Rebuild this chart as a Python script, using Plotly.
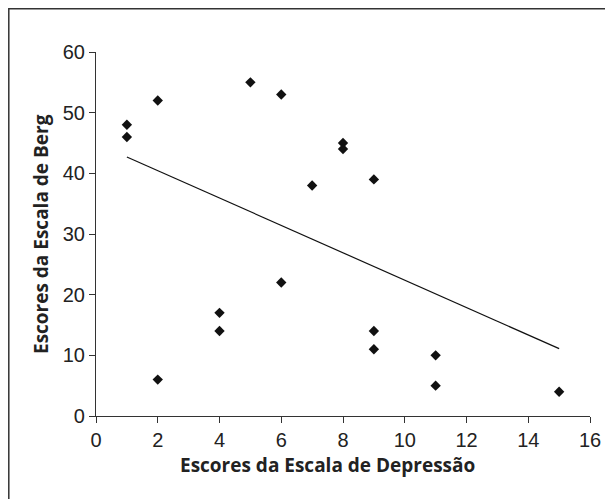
import plotly.graph_objects as go

# Data
depressao = [1, 1, 2, 5, 6, 8, 8, 7, 9, 6, 4, 4, 2, 9, 9, 11, 11, 15]
berg = [48, 46, 52, 55, 53, 45, 44, 38, 39, 22, 17, 14, 6, 14, 11, 10, 5, 4]
trend_x = [1, 15]
trend_y = [42.7, 11.1]
x_ticks = [0, 2, 4, 6, 8, 10, 12, 14, 16]
y_ticks = [0, 10, 20, 30, 40, 50, 60]

OFF = 8  # page body offset
W, H = 613, 499
L, T = 96 - OFF, 52 - OFF
pw, ph = 494, 364
R, B = W - L - pw, H - T - ph

def px_x(p):  # screen px -> paper x
    return (p - OFF - L) / pw

def px_y(p):
    return (T + ph - (p - OFF)) / ph

tick_font = dict(family="Liberation Sans, Arial, sans-serif", size=20, color="#222")
title_font = dict(family="Open Sans, Noto Sans, sans-serif", size=19, color="#222")

fig = go.Figure()
fig.add_trace(go.Scatter(x=trend_x, y=trend_y, mode="lines",
                         line=dict(color="#111", width=1.2), showlegend=False,
                         hoverinfo="skip"))
fig.add_trace(go.Scatter(x=depressao, y=berg, mode="markers",
                         marker=dict(symbol="diamond", size=8, color="#111"),
                         showlegend=False))

fig.update_layout(
    width=W, height=H,
    margin=dict(l=L, r=R, t=T, b=B, pad=0),
    paper_bgcolor="white", plot_bgcolor="white",
    xaxis=dict(range=[0, 16], tickvals=x_ticks, showgrid=False, zeroline=False,
               showline=True, linecolor="#333", linewidth=1.2,
               ticks="outside", ticklen=6, tickcolor="#333", tickwidth=1.2,
               tickfont=tick_font),
    yaxis=dict(range=[0, 60], tickvals=y_ticks, showgrid=False, zeroline=False,
               showline=True, linecolor="#333", linewidth=1.2,
               ticks="outside", ticklen=6, tickcolor="#333", tickwidth=1.2,
               tickfont=tick_font),
    annotations=[
        dict(text="<b>Escores da Escala de Depressão</b>", xref="paper", yref="paper",
             x=px_x(327), y=px_y(465), showarrow=False, font=title_font,
             xanchor="center", yanchor="middle"),
        dict(text="<b>Escores da Escala de Berg</b>", xref="paper", yref="paper",
             x=px_x(41), y=px_y(234), showarrow=False, font=title_font, textangle=-90,
             xanchor="center", yanchor="middle"),
    ],
    shapes=[dict(type="rect", xref="paper", yref="paper",
                 x0=px_x(OFF + 0.8), x1=px_x(640), y0=px_y(530), y1=px_y(OFF + 0.8),
                 line=dict(color="#333", width=1.5), fillcolor="rgba(0,0,0,0)",
                 layer="below")],
)

fig.write_html("out.html")
